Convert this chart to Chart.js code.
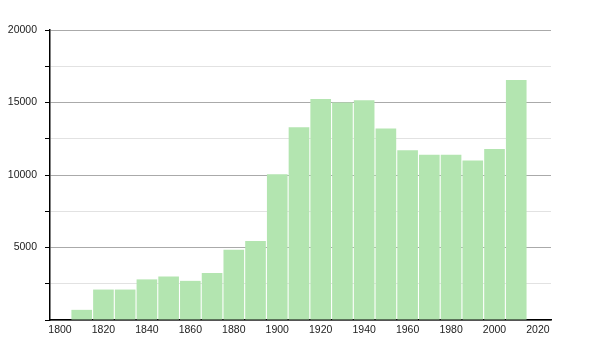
<!DOCTYPE html>
<html>
<head>
<meta charset="utf-8">
<script src="https://cdn.jsdelivr.net/npm/chart.js@4"></script>
<style>
  body { margin: 0; background: #fff; }
  #wrap { width: 600px; height: 350px; }
</style>
</head>
<body>
<div id="wrap"><canvas id="chart"></canvas></div>
<script>
// census years (bar centres) and population
const years = [1810, 1820, 1830, 1840, 1850, 1860, 1870, 1880, 1890, 1900,
               1910, 1920, 1930, 1940, 1950, 1960, 1970, 1980, 1990, 2000, 2010];
const population = [700, 2100, 2100, 2800, 3000, 2700, 3250, 4850, 5450, 10050,
                    13300, 15250, 15000, 15150, 13200, 11700, 11400, 11400, 11000, 11800, 16550];
const xTicks = [1800, 1820, 1840, 1860, 1880, 1900, 1920, 1940, 1960, 1980, 2000, 2020];
const yTicks = [0, 2500, 5000, 7500, 10000, 12500, 15000, 17500, 20000];

const points = years.map((y, i) => ({ x: y, y: population[i] }));

new Chart(document.getElementById('chart'), {
    type: 'bar',
    data: {
        datasets: [{
            data: points,
            backgroundColor: 'rgb(179, 229, 176)',
            barPercentage: 0.95,
            categoryPercentage: 1
        }]
    },
    options: {
        responsive: true,
        maintainAspectRatio: false,
        animation: false,
        layout: { padding: { top: 30, right: 49, bottom: 0, left: 0 } },
        plugins: { legend: { display: false }, tooltip: { enabled: false } },
        scales: {
            x: {
                type: 'linear',
                min: 1795.4,
                max: 2026,
                offset: false,
                afterBuildTicks: scale => { scale.ticks = xTicks.map(v => ({ value: v })); },
                afterFit: scale => { scale.height = 30; },
                grid: { display: false, drawTicks: false },
                border: { display: true, color: '#000', width: 1.5 },
                ticks: {
                    padding: 4,
                    maxRotation: 0,
                    autoSkip: false,
                    color: '#222',
                    font: { family: 'Liberation Sans', size: 10.5 },
                    callback: v => String(v)
                }
            },
            y: {
                min: 0,
                max: 20000,
                afterBuildTicks: scale => { scale.ticks = yTicks.map(v => ({ value: v })); },
                afterFit: scale => { scale.width = 50; },
                grid: {
                    color: ctx => (ctx.tick && ctx.tick.value % 5000 === 0) ? '#aaaaaa' : '#e2e2e2',
                    tickColor: '#000',
                    tickLength: 5
                },
                border: { display: true, color: '#000', width: 1.5 },
                ticks: {
                    padding: 8,
                    color: '#222',
                    font: { family: 'Liberation Sans', size: 10.5 },
                    callback: v => (v > 0 && v % 5000 === 0) ? String(v) : ''
                }
            }
        }
    }
});
</script>
</body>
</html>
